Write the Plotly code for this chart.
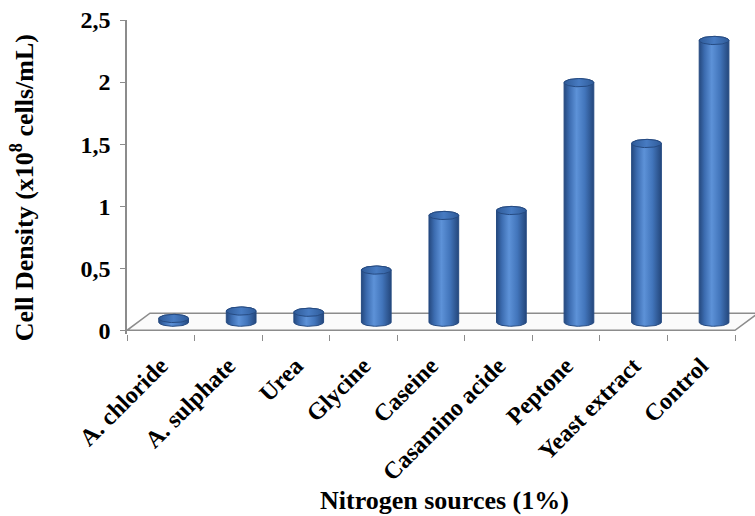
import numpy as np
import plotly.graph_objects as go

# Nitrogen source tested (1%) and resulting cell density (x10^8 cells/mL)
sources = ["A. chloride", "A. sulphate", "Urea", "Glycine", "Caseine",
           "Casamino acide", "Peptone", "Yeast extract", "Control"]
density = [0.03, 0.09, 0.08, 0.42, 0.86, 0.90, 1.93, 1.44, 2.27]

y_ticks = [0, 0.5, 1, 1.5, 2, 2.5]
y_ticktext = ["0", "0,5", "1", "1,5", "2", "2,5"]

# pseudo-3D geometry (axis units): floor depth and cylinder size
DEPTH_X, DEPTH_Y = 0.34, 0.137
BAR_SHIFT_X, BASE_Y = 0.19, 0.065
RADIUS, RY = 0.22, 0.033

BODY_SCALE = [[0.0, "#25497f"], [0.18, "#3c6cb0"], [0.42, "#5d92d8"],
              [0.7, "#4275bb"], [1.0, "#24477c"]]
CAP_SCALE = [[0.0, "#2f5b99"], [0.5, "#477bc2"], [1.0, "#2f5b99"]]
EDGE = "#264b82"

fig = go.Figure()

for i, v in enumerate(density):
    cx = i + 0.5 + BAR_SHIFT_X
    y0, yt = BASE_Y, BASE_Y + v
    t_front = np.linspace(np.pi, 2 * np.pi, 40)
    t_back = np.linspace(0, np.pi, 40)
    # cylinder body: front half of the base ellipse, right side, back half of the top
    bx = np.concatenate([cx + RADIUS * np.cos(t_front), cx + RADIUS * np.cos(t_back)])
    by = np.concatenate([y0 + RY * np.sin(t_front), yt + RY * np.sin(t_back)])
    fig.add_trace(go.Scatter(
        x=np.append(bx, bx[0]), y=np.append(by, by[0]), mode="lines",
        fill="toself", fillgradient=dict(type="horizontal", colorscale=BODY_SCALE),
        line=dict(color=EDGE, width=1), hoverinfo="skip", showlegend=False))
    # top cap
    tc = np.linspace(0, 2 * np.pi, 60)
    fig.add_trace(go.Scatter(
        x=cx + RADIUS * np.cos(tc), y=yt + RY * np.sin(tc), mode="lines",
        fill="toself", fillgradient=dict(type="horizontal", colorscale=CAP_SCALE),
        line=dict(color=EDGE, width=1), hovertemplate=f"{sources[i]}: {v}<extra></extra>",
        showlegend=False))

n = len(sources)
# floor of the 3D plot area
fig.add_shape(type="path", xref="x", yref="y", layer="below",
              path=f"M 0,0 L {n},0 L {n + DEPTH_X},{DEPTH_Y} L {DEPTH_X},{DEPTH_Y} Z",
              fillcolor="#fbfbfb", line=dict(color="#8c8c8c", width=1.5))

tick_font = dict(family="Liberation Serif", size=24, color="black", weight="bold")
title_font = dict(family="Liberation Serif", size=26, color="black", weight="bold")

fig.update_layout(
    width=755, height=516,
    margin=dict(l=127, r=0, t=20, b=182),
    paper_bgcolor="white", plot_bgcolor="white",
    xaxis=dict(range=[0, 9.296], tickvals=[i + 0.5 for i in range(n)], ticktext=sources,
               tickangle=-45, ticks="", showline=False, showgrid=False, zeroline=False,
               tickfont=tick_font, ticklabelstandoff=12,
               minor=dict(tick0=0, dtick=1, ticks="outside", ticklen=6,
                          tickcolor="#8c8c8c", tickwidth=1)),
    yaxis=dict(range=[-0.03, 2.5], tickvals=y_ticks, ticktext=y_ticktext,
               ticks="outside", ticklen=5, tickcolor="#8c8c8c",
               showline=True, linecolor="#8c8c8c", linewidth=1.5,
               showgrid=False, zeroline=False, tickfont=tick_font, ticklabelstandoff=5),
    annotations=[
        dict(text="Nitrogen sources (1%)", xref="paper", yref="paper",
             x=0.506, y=-0.53, xanchor="center", yanchor="middle", showarrow=False,
             font=title_font),
        dict(text="Cell Density (x10<sup>8</sup> cells/mL)", xref="paper", yref="paper",
             x=-0.165, y=0.465, xanchor="center", yanchor="middle", textangle=-90,
             showarrow=False, font=title_font),
    ],
)

fig.write_html("out.html")
